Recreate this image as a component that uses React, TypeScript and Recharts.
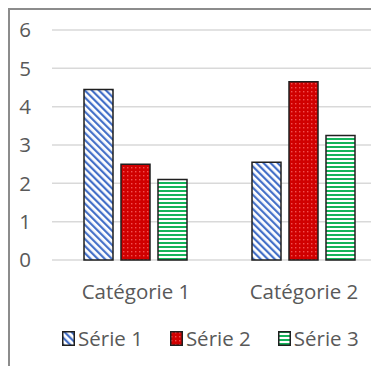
import React from "react";
import { BarChart, Bar, XAxis, YAxis, CartesianGrid, Legend } from "recharts";

// ── Data ───────────────────────────────────────────────────

const categories = ["Catégorie 1", "Catégorie 2"];
const serie1 = [4.45, 2.55];
const serie2 = [2.5, 4.65];
const serie3 = [2.1, 3.25];
const yTicks = [0, 1, 2, 3, 4, 5, 6];

const SERIES = [
  { key: "s1", name: "Série 1", fill: "url(#hatchBlue)" },
  { key: "s2", name: "Série 2", fill: "url(#dotsRed)" },
  { key: "s3", name: "Série 3", fill: "url(#linesGreen)" },
];

const data = categories.map((c, i) => ({
  category: c,
  s1: serie1[i],
  s2: serie2[i],
  s3: serie3[i],
}));

// ── Styles ─────────────────────────────────────────────────

const FONT = "'Open Sans', sans-serif";
const FONT_SIZE = 20.5;
const TEXT = "#595959";
const GRID = "#d9d9d9";
const EDGE = "#1f1f1f";

function LegendContent() {
  return (
    <div style={{ display: "flex", fontFamily: FONT, fontSize: FONT_SIZE, color: TEXT, whiteSpace: "nowrap" }}>
      {SERIES.map((s) => (
        <div key={s.key} style={{ display: "flex", alignItems: "center", marginRight: 27 }}>
          <svg width={13} height={15} style={{ marginRight: 3 }}>
            <rect x={0.75} y={0.75} width={11.5} height={13.5} fill={s.fill} stroke={EDGE} strokeWidth={1.5} />
          </svg>
          <span>{s.name}</span>
        </div>
      ))}
    </div>
  );
}

export default function App() {
  return (
    <div
      style={{
        position: "fixed",
        left: 8,
        top: 8,
        width: 363,
        height: 358,
        overflow: "hidden",
        boxSizing: "border-box",
        borderTop: "2px solid #8c8c8c",
        borderLeft: "2px solid #8c8c8c",
        background: "#fff",
      }}
    >
      <BarChart
        width={400}
        height={356}
        data={data}
        margin={{ top: 20, right: 22, left: 0, bottom: 76 }}
        barCategoryGap={32}
        barGap={8}
      >
        <defs>
          <pattern id="hatchBlue" width={5} height={5} patternUnits="userSpaceOnUse" patternTransform="rotate(-45)">
            <rect width={5} height={5} fill="#ffffff" />
            <rect width={2.2} height={5} fill="#4470c8" />
          </pattern>
          <pattern id="dotsRed" width={4} height={4} patternUnits="userSpaceOnUse">
            <rect width={4} height={4} fill="#d00000" />
            <rect x={1} y={1} width={1.4} height={1.4} fill="#f25050" />
          </pattern>
          <pattern id="linesGreen" width={4} height={4} patternUnits="userSpaceOnUse">
            <rect width={4} height={4} fill="#ffffff" />
            <rect width={4} height={2} fill="#14b45a" />
          </pattern>
        </defs>
        <CartesianGrid vertical={false} stroke={GRID} strokeWidth={1.5} />
        <XAxis
          dataKey="category"
          axisLine={false}
          tickLine={false}
          tickSize={0}
          tickMargin={24}
          height={30}
          tick={{ fill: TEXT, fontSize: FONT_SIZE, fontFamily: FONT }}
        />
        <YAxis
          domain={[0, 6]}
          ticks={yTicks}
          axisLine={false}
          tickLine={false}
          tickSize={0}
          tickMargin={21}
          width={42}
          tick={{ fill: TEXT, fontSize: FONT_SIZE, fontFamily: FONT }}
        />
        <Legend
          layout="horizontal"
          align="center"
          verticalAlign="middle"
          content={() => <LegendContent />}
          wrapperStyle={{ top: 314, left: 52, width: "auto" }}
        />
        {SERIES.map((s) => (
          <Bar
            key={s.key}
            dataKey={s.key}
            name={s.name}
            fill={s.fill}
            stroke={EDGE}
            strokeWidth={1.5}
            isAnimationActive={false}
          />
        ))}
      </BarChart>
    </div>
  );
}
